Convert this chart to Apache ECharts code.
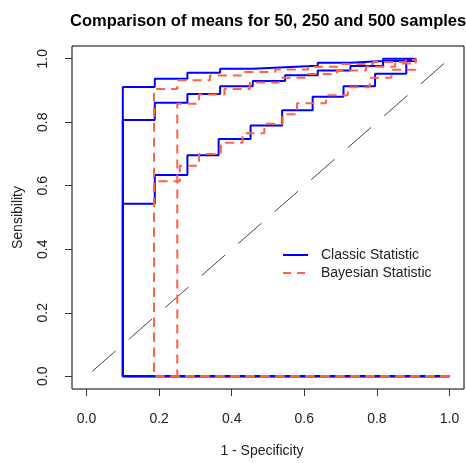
<!DOCTYPE html>
<html>
<head>
<meta charset="utf-8">
<script src="https://cdn.jsdelivr.net/npm/echarts@6/dist/echarts.min.js"></script>
<style>
  html, body { margin: 0; padding: 0; background: #fff; }
  #chart { width: 466px; height: 463px; }
</style>
</head>
<body>
<div id="chart"></div>
<script>
// tick labels
const xTicks = [0, 0.2, 0.4, 0.6, 0.8, 1]
const yTicks = [0, 0.2, 0.4, 0.6, 0.8, 1]

// ROC steps, [1 - specificity, sensibility]; each curve starts at (1, 0)
const classic50 = [[1, 0], [0.1, 0.543], [0.188, 0.634], [0.278, 0.696], [0.364, 0.747], [0.452, 0.79], [0.539, 0.838], [0.623, 0.88], [0.708, 0.913], [0.795, 0.953], [0.881, 0.997], [0.907, 1]]
const classic250 = [[1, 0], [0.1, 0.807], [0.188, 0.861], [0.278, 0.889], [0.368, 0.913], [0.458, 0.93], [0.547, 0.948], [0.637, 0.963], [0.727, 0.977], [0.817, 0.993], [0.907, 1]]
const classic500 = [[1, 0], [0.1, 0.911], [0.188, 0.937], [0.278, 0.956], [0.368, 0.968], [0.458, 0.973], [0.547, 0.978], [0.637, 0.987], [0.727, 0.993], [0.817, 1], [0.907, 1]]

const bayes50 = [[1, 0], [0.186, 0.614], [0.257, 0.663], [0.31, 0.7], [0.37, 0.735], [0.43, 0.765], [0.49, 0.795], [0.54, 0.825], [0.58, 0.86], [0.66, 0.885], [0.72, 0.91], [0.78, 0.94], [0.84, 0.965], [0.907, 1]]
const bayes250 = [[1, 0], [0.25, 0.858], [0.31, 0.887], [0.38, 0.905], [0.45, 0.925], [0.53, 0.94], [0.61, 0.952], [0.69, 0.963], [0.77, 0.975], [0.85, 0.985], [0.907, 1]]
const bayes500 = [[1, 0], [0.186, 0.905], [0.25, 0.932], [0.34, 0.947], [0.43, 0.958], [0.52, 0.966], [0.61, 0.975], [0.7, 0.983], [0.79, 0.99], [0.88, 0.997], [0.907, 1]]

const diagonal = [[0, 0], [1, 1]]

const classicCurves = [classic50, classic250, classic500]
const bayesCurves = [bayes50, bayes250, bayes500]

const chart = echarts.init(document.getElementById('chart'))

const axisFont = { fontFamily: 'Liberation Sans, Arial', fontSize: 14, color: '#222' }

const series = [{
  type: 'line',
  data: diagonal,
  symbol: 'none',
  silent: true,
  lineStyle: { color: '#444', width: 1, type: [31, 17.5], dashOffset: 40.9 }
}]
classicCurves.forEach(function (d) {
  series.push({
    name: 'Classic Statistic',
    type: 'line',
    step: 'end',
    data: d,
    symbol: 'none',
    lineStyle: { color: '#0000ff', width: 2 },
    itemStyle: { color: '#0000ff' }
  })
})
bayesCurves.forEach(function (d) {
  series.push({
    name: 'Bayesian Statistic',
    type: 'line',
    step: 'end',
    data: d,
    symbol: 'none',
    lineStyle: { color: '#ff6347', width: 2, type: [9, 6] },
    itemStyle: { color: '#ff6347' }
  })
})

const option = {
  animation: false,
  title: {
    text: 'Comparison of means for 50, 250 and 500 samples',
    left: 65,
    top: 8,
    textStyle: { fontFamily: 'Liberation Sans, Arial', fontSize: 16.5, fontWeight: 'bold', color: '#000' }
  },
  legend: {
    data: [
      { name: 'Classic Statistic', lineStyle: { type: 'solid', width: 2 } },
      { name: 'Bayesian Statistic', lineStyle: { type: [8, 6], width: 2 } }
    ],
    orient: 'vertical',
    left: 277,
    top: 243,
    itemWidth: 25,
    itemHeight: 14,
    itemGap: 4,
    itemStyle: { opacity: 0 },
    textStyle: { fontFamily: 'Liberation Sans, Arial', fontSize: 14, color: '#222', padding: [0, 0, 0, 8] }
  },
  grid: {
    left: 72,
    right: 2,
    top: 46,
    bottom: 71,
    show: true,
    borderColor: '#000',
    borderWidth: 1
  },
  xAxis: {
    type: 'value',
    min: -0.04,
    max: 1.04,
    name: '1 - Specificity',
    nameLocation: 'middle',
    nameGap: 55,
    nameTextStyle: Object.assign({ padding: [0, 12, 0, 0] }, axisFont),
    axisLine: { show: false, onZero: false },
    splitLine: { show: false },
    axisTick: { show: true, inside: false, length: 7, customValues: xTicks, lineStyle: { color: '#333' } },
    axisLabel: Object.assign({
      margin: 23,
      customValues: xTicks,
      formatter: function (v) { return v.toFixed(1) }
    }, axisFont)
  },
  yAxis: {
    type: 'value',
    min: -0.04,
    max: 1.04,
    name: 'Sensibility',
    nameLocation: 'middle',
    nameGap: 47,
    nameTextStyle: axisFont,
    axisLine: { show: false, onZero: false },
    splitLine: { show: false },
    axisTick: { show: true, inside: false, length: 7, customValues: yTicks, lineStyle: { color: '#333' } },
    axisLabel: Object.assign({
      margin: 22,
      rotate: 90,
      customValues: yTicks,
      formatter: function (v) { return v.toFixed(1) }
    }, axisFont)
  },
  series: series
}

chart.setOption(option)
</script>
</body>
</html>
